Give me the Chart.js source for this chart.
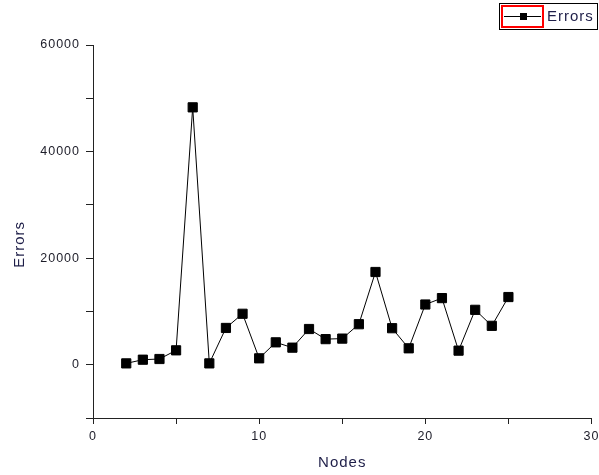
<!DOCTYPE html>
<html>
<head>
<meta charset="utf-8">
<script src="https://cdn.jsdelivr.net/npm/chart.js@4"></script>
<style>
	html, body { margin: 0; padding: 0; background: #fff; }
	#wrap { width: 599px; height: 475px; position: relative; }
</style>
</head>
<body>
<div id="wrap"><canvas id="errorsChart"></canvas></div>
<script>
const nodes = [2, 3, 4, 5, 6, 7, 8, 9, 10, 11, 12, 13, 14, 15, 16, 17, 18, 19, 20, 21, 22, 23, 24, 25]
const errors = [250, 940, 1070, 2700, 48300, 250, 6900, 9560, 1200, 4200, 3200, 6700, 4800, 4900, 7600, 17400, 6850, 3080, 11300, 12500, 2640, 10300, 7300, 12700]
const xTicks = [0, 10, 20, 30]
const yTicks = [0, 20000, 40000, 60000]

const axisColor = "#222"
const textColor = "#1c1c28"
const titleColor = "#1e1e48"

// letter spacing like the original render
const spacing = {
	id: "spacing",
	beforeUpdate(chart) { chart.ctx.letterSpacing = "1px" },
	beforeDraw(chart) { chart.ctx.letterSpacing = "1px" }
}

// boxed legend at the top right
const boxLegend = {
	id: "boxLegend",
	afterDraw(chart) {
		const ctx = chart.ctx
		ctx.save()
		ctx.lineWidth = 1
		ctx.strokeStyle = "#000"
		ctx.strokeRect(499.5, 3.5, 98, 26)
		ctx.beginPath()
		ctx.moveTo(504, 16.5)
		ctx.lineTo(541, 16.5)
		ctx.stroke()
		ctx.fillStyle = "#000"
		ctx.fillRect(520, 13, 7, 7)
		ctx.lineWidth = 2
		ctx.strokeStyle = "#ff0000"
		ctx.strokeRect(502, 6, 41, 21)
		ctx.fillStyle = titleColor
		ctx.font = "15px 'Liberation Sans', Arial, sans-serif"
		ctx.textBaseline = "middle"
		ctx.textAlign = "left"
		ctx.fillText(chart.data.datasets[0].label, 547, 17)
		ctx.restore()
	}
}

const errorsChart = new Chart(
	document.getElementById("errorsChart"),
	{
		type: "line",
		data: {
			datasets: [{
				label: "Errors",
				data: nodes.map((n, i) => ({ x: n, y: errors[i] })),
				borderColor: "#000",
				borderWidth: 1,
				backgroundColor: "#000",
				pointStyle: "rect",
				pointRadius: 6.5,
				pointBorderWidth: 1,
				pointBorderColor: "#000",
				pointBackgroundColor: "#000",
				tension: 0
			}]
		},
		options: {
			responsive: true,
			maintainAspectRatio: false,
			animation: false,
			layout: { padding: { top: 45, right: 6, bottom: 0, left: 0 } },
			plugins: {
				legend: { display: false },
				tooltip: { enabled: false }
			},
			scales: {
				x: {
					type: "linear",
					min: 0,
					max: 30,
					ticks: {
						stepSize: 5,
						padding: 5,
						color: textColor,
						font: { family: "'Liberation Sans', Arial, sans-serif", size: 12.5 },
						callback: v => xTicks.includes(v) ? v : ""
					},
					grid: { drawOnChartArea: false, drawTicks: true, tickLength: 6, tickColor: axisColor },
					border: { display: true, color: axisColor, width: 1 },
					title: {
						display: true,
						text: "Nodes",
						color: titleColor,
						font: { family: "'Liberation Sans', Arial, sans-serif", size: 15 },
						padding: { top: 0, bottom: 3 }
					},
					afterFit(scale) {
						scale.height = 57
						scale.paddingLeft = 0
						scale.paddingRight = 0
					}
				},
				y: {
					min: -10000,
					max: 60000,
					ticks: {
						stepSize: 10000,
						padding: 6,
						color: textColor,
						font: { family: "'Liberation Sans', Arial, sans-serif", size: 12.5 },
						callback: v => yTicks.includes(v) ? v : ""
					},
					grid: { drawOnChartArea: false, drawTicks: true, tickLength: 7, tickColor: axisColor },
					border: { display: true, color: axisColor, width: 1 },
					title: {
						display: true,
						text: "Errors     ",
						color: titleColor,
						font: { family: "'Liberation Sans', Arial, sans-serif", size: 15 },
						padding: { top: 11, bottom: 0 }
					},
					afterFit(scale) {
						scale.width = 93
						scale.paddingTop = 0
						scale.paddingBottom = 0
					}
				}
			}
		},
		plugins: [spacing, boxLegend]
	}
)
</script>
</body>
</html>
